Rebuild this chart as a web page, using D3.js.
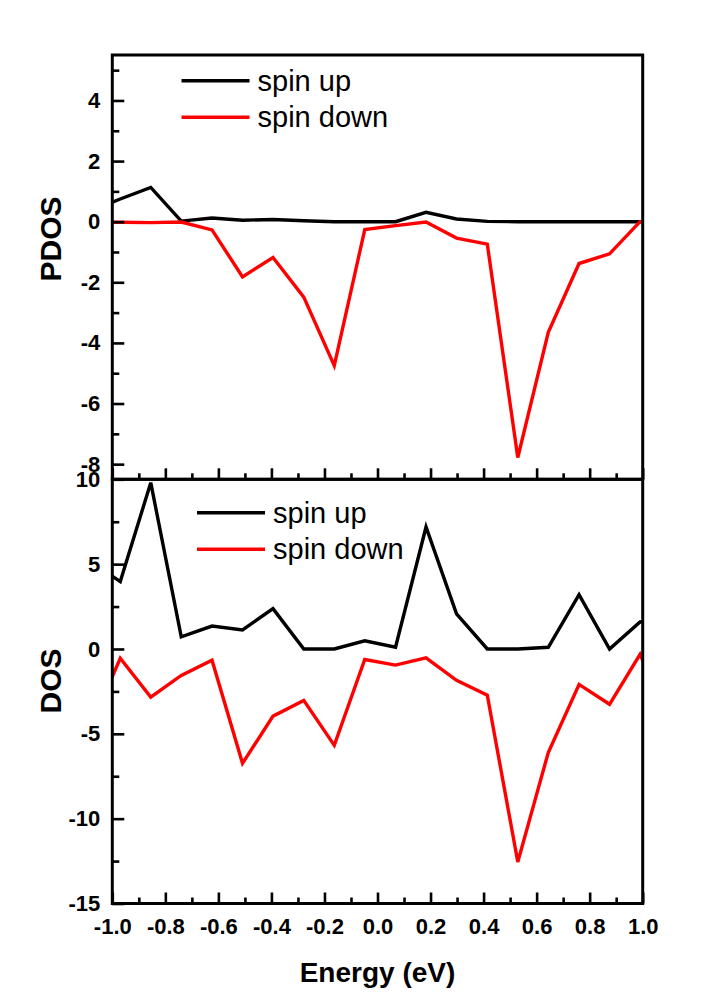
<!DOCTYPE html>
<html>
<head>
<meta charset="utf-8">
<script src="https://cdn.jsdelivr.net/npm/d3@7"></script>
<style>
  html, body { margin: 0; padding: 0; background: #ffffff; }
  svg { display: block; }
  text { font-family: "Liberation Sans", Arial, sans-serif; fill: #000; }
</style>
</head>
<body>
<svg id="chart" width="706" height="1008"></svg>
<script>
// Energy grid (eV); first and last points lie just outside the plotted window
const energy = [-1.086, -0.970, -0.855, -0.740, -0.624, -0.509, -0.394, -0.278, -0.163, -0.048,
                 0.068,  0.183,  0.298,  0.414,  0.529,  0.644,  0.760,  0.875,  0.990,  1.106];

// Projected density of states
const pdosUp   = [0.34, 0.75, 1.13, 0.02, 0.12, 0.05, 0.07, 0.03, 0.0, 0.0,
                  0.0, 0.31, 0.09, 0.01, 0.0, 0.0, 0.0, 0.0, 0.0, 0.0];
const pdosDown = [-0.02, -0.02, -0.03, -0.01, -0.27, -1.82, -1.18, -2.49, -4.75, -0.26,
                  -0.13, -0.01, -0.54, -0.74, -7.78, -3.65, -1.38, -1.06, 0.0, 0.0];

// Total density of states
const dosUp   = [5.2, 3.97, 9.80, 0.72, 1.35, 1.12, 2.38, 0.0, 0.0, 0.48,
                 0.1, 7.19, 2.07, 0.0, 0.0, 0.1, 3.2, 0.0, 1.59, 1.7];
const dosDown = [-4.7, -0.55, -2.84, -1.56, -0.66, -6.74, -3.96, -3.03, -5.68, -0.62,
                 -0.95, -0.52, -1.85, -2.72, -12.55, -6.1, -2.09, -3.26, -0.32, -4.2];

// Axis ticks
const xMajor = [-1.0, -0.8, -0.6, -0.4, -0.2, 0.0, 0.2, 0.4, 0.6, 0.8, 1.0];
const xMinor = [-0.9, -0.7, -0.5, -0.3, -0.1, 0.1, 0.3, 0.5, 0.7, 0.9];
const pdosMajor = [4, 2, 0, -2, -4, -6, -8];
const pdosMinor = [5, 3, 1, -1, -3, -5, -7];
const dosMajor = [10, 5, 0, -5, -10, -15];
const dosMinor = [7.5, 2.5, -2.5, -7.5, -12.5];

const seriesNames = ["spin up", "spin down"];
const seriesColors = ["#000000", "#ff0000"];

const svg = d3.select("#chart");

const left = 112.3, right = 642.7;
const topPanel = { top: 55, bottom: 479.3 };
const botPanel = { top: 479.3, bottom: 903.5 };

const x = d3.scaleLinear().domain([-1, 1]).range([left, right]);
const yTop = d3.scaleLinear().domain([-8.5, 5.5]).range([topPanel.bottom, topPanel.top]);
const yBot = d3.scaleLinear().domain([-15, 10]).range([botPanel.bottom, botPanel.top]);

// plain hyphen-minus for negative tick labels
const hyphen = f => d => f(d).replace("\u2212", "-");
const fmtInt = hyphen(d3.format("d"));
const fmtOne = hyphen(d3.format(".1f"));

function drawPanel(panel, y, up, down, yMajor, yMinor, showXLabels, clipId, legendPos) {
  const g = svg.append("g");

  g.append("clipPath").attr("id", clipId)
    .append("rect")
    .attr("x", left).attr("y", panel.top)
    .attr("width", right - left).attr("height", panel.bottom - panel.top);

  const line = d3.line().x((d, i) => x(energy[i])).y(d => y(d));
  const lines = g.append("g").attr("clip-path", `url(#${clipId})`);
  [up, down].forEach((vals, k) => {
    lines.append("path")
      .datum(vals)
      .attr("fill", "none")
      .attr("stroke", seriesColors[k])
      .attr("stroke-width", 3.4)
      .attr("stroke-linejoin", "miter")
      .attr("d", line);
  });

  // y axis: inward ticks
  const yAxisMajor = d3.axisLeft(y).tickValues(yMajor).tickSize(-12).tickPadding(12)
    .tickFormat(fmtInt);
  const ya = g.append("g").attr("transform", `translate(${left},0)`).call(yAxisMajor);
  const yAxisMinor = d3.axisLeft(y).tickValues(yMinor).tickSize(-7).tickFormat("");
  const yb = g.append("g").attr("transform", `translate(${left},0)`).call(yAxisMinor);

  // x axis: inward ticks
  const xAxisMajor = d3.axisBottom(x).tickValues(xMajor).tickSize(-11).tickPadding(15)
    .tickFormat(showXLabels ? fmtOne : "");
  const xa = g.append("g").attr("transform", `translate(0,${panel.bottom})`).call(xAxisMajor);
  const xAxisMinor = d3.axisBottom(x).tickValues(xMinor).tickSize(-6).tickFormat("");
  const xb = g.append("g").attr("transform", `translate(0,${panel.bottom})`).call(xAxisMinor);

  [ya, yb, xa, xb].forEach(a => {
    a.select(".domain").remove();
    a.selectAll(".tick line").attr("stroke", "#000").attr("stroke-width", 2.6);
  });
  ya.selectAll("text").attr("font-size", 22).attr("font-weight", "bold")
    .attr("font-family", "Liberation Sans, Arial, sans-serif");
  xa.selectAll("text").attr("font-size", 22).attr("font-weight", "bold")
    .attr("font-family", "Liberation Sans, Arial, sans-serif");

  // frame
  g.append("rect")
    .attr("x", left).attr("y", panel.top)
    .attr("width", right - left).attr("height", panel.bottom - panel.top)
    .attr("fill", "none").attr("stroke", "#000").attr("stroke-width", 3);

  // legend
  const lg = g.append("g").attr("transform", `translate(${legendPos[0]},${legendPos[1]})`);
  seriesNames.forEach((name, k) => {
    const row = lg.append("g").attr("transform", `translate(0,${k * 36.5})`);
    row.append("line").attr("x1", 0).attr("x2", 68).attr("y1", 0).attr("y2", 0)
      .attr("stroke", seriesColors[k]).attr("stroke-width", 3.4);
    row.append("text").attr("x", 76).attr("y", 10)
      .attr("font-size", 29).text(name);
  });
}

drawPanel(topPanel, yTop, pdosUp, pdosDown, pdosMajor, pdosMinor, false, "clipTop", [181.5, 80.7]);
drawPanel(botPanel, yBot, dosUp, dosDown, dosMajor, dosMinor, true, "clipBot", [197, 512.7]);

// axis titles
svg.append("text")
  .attr("transform", "translate(50,239) rotate(-90)")
  .attr("text-anchor", "middle").attr("dy", "0.36em")
  .attr("font-size", 30).attr("font-weight", "bold")
  .text("PDOS");

svg.append("text")
  .attr("transform", "translate(50,681) rotate(-90)")
  .attr("text-anchor", "middle").attr("dy", "0.36em")
  .attr("font-size", 30).attr("font-weight", "bold")
  .text("DOS");

svg.append("text")
  .attr("x", (left + right) / 2).attr("y", 982)
  .attr("text-anchor", "middle")
  .attr("font-size", 28).attr("font-weight", "bold")
  .text("Energy (eV)");
</script>
</body>
</html>
